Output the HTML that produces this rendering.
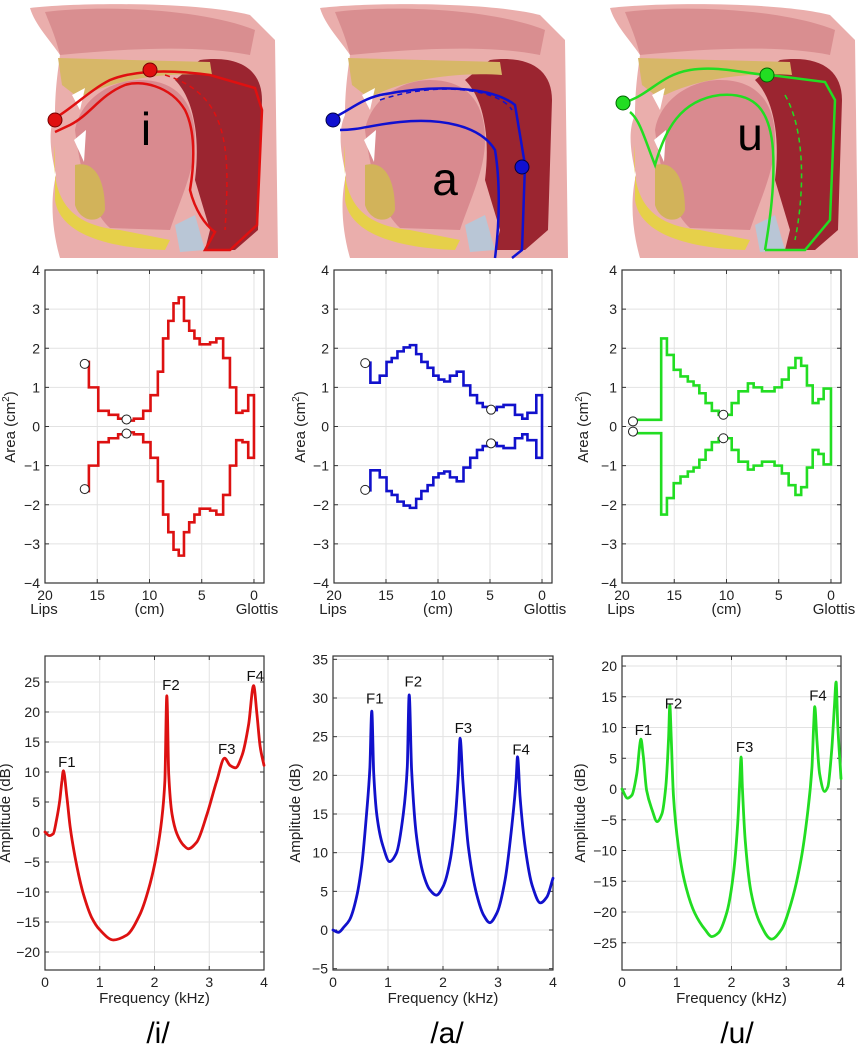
<!DOCTYPE html>
<html><head><meta charset="utf-8">
<style>
html,body{margin:0;padding:0;background:#fff;}
svg{display:block;font-family:"Liberation Sans",Arial,sans-serif;}
</style></head>
<body>
<svg id="fig" width="858" height="1049" viewBox="0 0 858 1049" xmlns="http://www.w3.org/2000/svg">
<defs>
<g id="anat">
  <path d="M30,8 C80,2 200,2 250,15 L275,40 L278,258 L60,258 C52,230 50,200 56,175 C50,150 48,130 55,115 C55,90 58,70 60,55 C50,40 35,25 30,8 Z" fill="#eaaeac"/>
  <path d="M45,12 C100,5 200,8 255,30 L250,55 C200,45 130,48 60,55 C55,35 50,25 45,12Z" fill="#d98e90"/>
  <path d="M200,60 C240,55 262,70 262,100 L258,230 L235,250 L205,250 L210,230 L195,180 C200,140 195,100 175,80 Z" fill="#9b2530"/>
  <path d="M58,58 L210,62 L212,75 C170,72 120,78 85,95 L75,95 L62,85 Z" fill="#d7b768"/>
  <path d="M75,130 C80,100 110,80 140,80 C175,80 195,100 195,140 C195,170 180,200 170,230 L110,228 C90,210 80,170 75,130Z" fill="#d98a8f"/>
  <path d="M55,145 C50,200 70,225 120,230 L170,240 L165,250 C110,248 60,235 55,200 Z" fill="#e6d04a"/>
  <path d="M75,165 C95,160 105,180 105,210 C100,225 80,222 75,205Z" fill="#d2b35a"/>
  <path d="M72,95 L85,88 L80,110 Z M74,140 L86,130 L84,162 Z" fill="#fff"/>
  <path d="M175,225 L195,215 L205,250 L180,252Z" fill="#b9c6d6"/>
</g>
</defs>

<g transform="translate(0,0)">
  <use href="#anat"/>
  <path d="M55,118 C70,110 90,90 110,80 C130,72 160,68 210,75 L255,88 L262,110 L257,225 L230,250 L205,250 L215,232 C205,225 195,210 190,190 C195,160 195,130 185,110 C170,85 140,80 125,85 C100,95 90,115 70,125 L55,132" fill="none" stroke="#e01010" stroke-width="2.5"/>
  <path d="M165,75 C230,95 230,150 225,230" fill="none" stroke="#e01010" stroke-width="1.5" stroke-dasharray="5,4"/>
  <circle cx="150" cy="70" r="7" fill="#e01010" stroke="#700"/>
  <circle cx="55" cy="120" r="7" fill="#e01010" stroke="#700"/>
  <text x="146" y="145" font-size="46" text-anchor="middle">i</text>
</g>
<g transform="translate(290,0)">
  <use href="#anat"/>
  <path d="M43,118 C60,110 70,100 90,95 C140,85 200,85 225,105 L235,165 L232,250 L222,258" fill="none" stroke="#1010d0" stroke-width="2.5"/>
  <path d="M50,130 C70,130 80,125 110,122 C150,118 190,125 205,150 C210,180 210,220 205,258" fill="none" stroke="#1010d0" stroke-width="2.5"/>
  <path d="M90,100 C150,80 210,90 222,110" fill="none" stroke="#1010d0" stroke-width="1.5" stroke-dasharray="5,4"/>
  <circle cx="43" cy="120" r="7" fill="#1010d0" stroke="#004"/>
  <circle cx="232" cy="167" r="7" fill="#1010d0" stroke="#004"/>
  <text x="155" y="195" font-size="46" text-anchor="middle">a</text>
</g>
<g transform="translate(580,0)">
  <use href="#anat"/>
  <path d="M43,103 C70,95 80,75 110,70 C140,65 170,75 190,75 L245,82 L255,100 L250,220 L225,250 L185,250" fill="none" stroke="#22dd22" stroke-width="2.5"/>
  <path d="M50,112 C60,120 65,140 75,165 C85,130 100,100 140,95 C175,92 190,110 193,150 C195,185 190,220 185,250" fill="none" stroke="#22dd22" stroke-width="2.5"/>
  <path d="M205,95 C225,130 225,190 215,240" fill="none" stroke="#22dd22" stroke-width="1.5" stroke-dasharray="5,4"/>
  <circle cx="43" cy="103" r="7" fill="#22dd22" stroke="#060"/>
  <circle cx="187" cy="75" r="7" fill="#22dd22" stroke="#060"/>
  <text x="170" y="150" font-size="46" text-anchor="middle">u</text>
</g>

<g id="charts"></g>
<text x="158" y="1043" font-size="30" text-anchor="middle">/i/</text>
<text x="447" y="1043" font-size="30" text-anchor="middle">/a/</text>
<text x="737" y="1043" font-size="30" text-anchor="middle">/u/</text>
</svg>
<script>
// ---- Area function data (section start in cm from glottis, area in cm^2) ----
const iPos = [16.0,15.8,14.9,13.9,13.0,12.3,11.5,10.6,9.9,9.2,8.7,8.2,7.7,7.2,6.7,6.2,5.7,5.2,4.2,3.6,2.95,2.3,1.7,1.1,0.55];
const iArea = [1.65,1.0,0.4,0.3,0.2,0.15,0.2,0.4,0.8,1.4,2.25,2.7,3.15,3.3,2.7,2.45,2.25,2.1,2.15,2.25,1.75,1.0,0.35,0.4,0.8];
const iMarkX = [16.2,12.2];
const iMarkY = [1.6,0.18];
const aPos = [16.6,16.5,15.6,14.95,14.45,13.9,13.3,12.7,12.1,11.6,11.0,10.45,9.95,9.4,8.85,8.2,7.55,6.9,6.25,5.7,5.0,4.35,3.7,2.6,1.9,1.4,0.55];
const aArea = [1.63,1.12,1.3,1.65,1.75,1.92,2.02,2.08,1.85,1.65,1.5,1.3,1.2,1.15,1.3,1.4,1.05,0.8,0.6,0.5,0.42,0.5,0.55,0.3,0.2,0.35,0.8];
const aMarkX = [17.0,4.9];
const aMarkY = [1.62,0.43];
const uPos = [18.8,16.25,15.7,15.05,14.4,13.7,13.15,12.6,12.0,11.4,10.75,9.5,8.85,7.95,7.4,6.6,5.4,4.7,4.05,3.4,2.85,2.3,1.75,1.2,0.7];
const uArea = [0.17,2.25,1.83,1.45,1.28,1.15,1.05,0.85,0.6,0.4,0.3,0.6,0.9,1.1,1.0,0.9,1.0,1.2,1.5,1.75,1.55,1.05,0.6,0.7,0.97];
const uMarkX = [18.95,10.3];
const uMarkY = [0.13,0.3];
const areaTicksY = [4,3,2,1,0,-1,-2,-3,-4];
const areaTicksX = [20,15,10,5,0];

// ---- Spectra data (kHz, dB) ----
const iFreq = [0,0.08,0.15,0.21,0.27,0.31,0.335,0.4,0.46,0.55,0.7,0.85,1.0,1.25,1.49,1.74,1.92,2.04,2.13,2.19,2.225,2.26,2.32,2.41,2.53,2.62,2.77,2.96,3.14,3.28,3.38,3.48,3.6,3.72,3.81,3.87,3.93,4.0];
const iDb = [0,-0.6,-0.3,2,5.3,8.6,10.2,5.8,0.8,-4.2,-10.3,-14.2,-16.3,-18,-17.2,-13.6,-8.6,-3.6,1.9,8.6,22.7,9.7,3,-0.3,-2.2,-2.8,-1.7,3,8.6,12.3,11.1,10.7,12.8,18,24.4,19.7,14.2,11.1];
const aFreq = [0,0.1,0.2,0.3,0.43,0.52,0.61,0.67,0.705,0.74,0.8,0.91,1.03,1.15,1.28,1.35,1.385,1.43,1.52,1.64,1.76,1.88,2.0,2.13,2.22,2.28,2.31,2.36,2.46,2.61,2.74,2.85,2.98,3.13,3.25,3.33,3.355,3.4,3.5,3.62,3.77,3.89,4.0];
const aDb = [0,-0.3,0.4,1.3,4.3,8.2,15.1,21,28.3,20.3,14.7,10.8,8.85,9.9,15.1,21.1,30.4,20.7,12,7.3,5.2,4.5,5.6,9,14.2,20.3,24.8,19.4,10.8,4.7,1.9,0.95,2.2,6.5,13.4,19.4,22.4,17.3,10.4,5.8,3.5,4.3,6.7];
const uFreq = [0,0.1,0.18,0.27,0.33,0.345,0.39,0.45,0.55,0.64,0.73,0.8,0.85,0.873,0.9,0.94,1.03,1.15,1.33,1.52,1.64,1.76,1.91,2.03,2.11,2.15,2.176,2.2,2.25,2.36,2.52,2.73,2.91,3.09,3.27,3.39,3.47,3.5,3.52,3.56,3.61,3.7,3.76,3.83,3.88,3.91,3.94,4.0];
const uDb = [0,-1.5,-1,2.5,7.5,8.1,5.2,-0.2,-3.4,-5.3,-4,0.4,8,13.6,8,-1.2,-9.4,-15.3,-20.2,-22.9,-24,-23.4,-20.2,-14.2,-6.1,0.9,5.2,-0.2,-8.3,-16.9,-21.8,-24.4,-22.9,-18.5,-11.5,-3.9,3.6,10.1,13.4,8,2.5,-0.4,0.4,6.3,13.4,17.4,10.6,1.7];
const fmtNames = ["F1","F2","F3","F4"];
const iLabF = [0.4,2.3,3.32,3.84], iLabDb = [10.8,23.7,13,25.2];
const aLabF = [0.76,1.46,2.37,3.42], aLabDb = [29.3,31.5,25.5,22.7];
const uLabF = [0.39,0.94,2.24,3.58], uLabDb = [8.8,13.1,6.05,14.4];
const iTicksY = [25,20,15,10,5,0,-5,-10,-15,-20];
const aTicksY = [35,30,25,20,15,10,5,0,-5];
const uTicksY = [20,15,10,5,0,-5,-10,-15,-20,-25];
const freqTicks = [0,1,2,3,4];

const NS = "http://www.w3.org/2000/svg";
const root = document.getElementById("charts");
function mk(tag, attrs, parent){ const e=document.createElementNS(NS,tag); for(const k in attrs) e.setAttribute(k,attrs[k]); (parent||root).appendChild(e); return e; }
function scale(d0,d1,r0,r1){ return v => r0+(v-d0)/(d1-d0)*(r1-r0); }
const fmt = v => (v<0?"\u2212"+(-v):String(v));

// monotone cubic path through pixel points
function monoPath(X,Y){
  const n=X.length, dx=[], m=[], t=new Array(n);
  for(let k=0;k<n-1;k++){ dx[k]=X[k+1]-X[k]; m[k]=(Y[k+1]-Y[k])/dx[k]; }
  t[0]=m[0]; t[n-1]=m[n-2];
  for(let k=1;k<n-1;k++){ t[k]=(m[k-1]*m[k]<=0)?0:(3*(dx[k-1]+dx[k]))/((2*dx[k]+dx[k-1])/m[k-1]+(dx[k]+2*dx[k-1])/m[k]); }
  let d=`M${X[0].toFixed(1)},${Y[0].toFixed(1)}`;
  for(let k=0;k<n-1;k++){
    const h=dx[k]/3;
    d+=` C${(X[k]+h).toFixed(1)},${(Y[k]+t[k]*h).toFixed(1)} ${(X[k+1]-h).toFixed(1)},${(Y[k+1]-t[k+1]*h).toFixed(1)} ${X[k+1].toFixed(1)},${Y[k+1].toFixed(1)}`;
  }
  return d;
}

function axesBox(g,x0,x1,y0,y1,sx,sy,xt,yt){
  xt.forEach(v=>{ const l=mk("line",{x1:sx(v),x2:sx(v),y1:y0,y2:y1,stroke:"#e2e2e2","stroke-width":1},g);
      });
  yt.forEach(v=>{ const l=mk("line",{x1:x0,x2:x1,y1:sy(v),y2:sy(v),stroke:"#e2e2e2","stroke-width":1},g);
      });
  xt.forEach(v=>{ mk("line",{x1:sx(v),x2:sx(v),y1:y1,y2:y1-4,stroke:"#333"},g); mk("line",{x1:sx(v),x2:sx(v),y1:y0,y2:y0+4,stroke:"#333"},g); });
  yt.forEach(v=>{ mk("line",{x1:x0,x2:x0+4,y1:sy(v),y2:sy(v),stroke:"#333"},g); mk("line",{x1:x1,x2:x1-4,y1:sy(v),y2:sy(v),stroke:"#333"},g); });
  const b=mk("rect",{x:x0,y:y0,width:x1-x0,height:y1-y0,fill:"none",stroke:"#333","stroke-width":1.2},g);
   
  yt.forEach(v=>{ const t=mk("text",{x:x0-5,y:sy(v)+5,"font-size":14,"text-anchor":"end",fill:"#222"},g); t.textContent=fmt(v);
      });
}

function areaChart(name,x0,x1,pos,area,mx,my,color,ytx){
  const g=mk("g",{});  
  const y0=270,y1=583;
  const sx=scale(20,-0.96,x0,x1), sy=scale(4,-4,y0,y1);
  axesBox(g,x0,x1,y0,y1,sx,sy,areaTicksX,areaTicksY);
  areaTicksX.forEach(v=>{ const t=mk("text",{x:sx(v),y:600,"font-size":14,"text-anchor":"middle",fill:"#222"},g); t.textContent=v;
      });
  const lips=mk("text",{x:sx(20)-1,y:614,"font-size":15,"text-anchor":"middle",fill:"#222"},g); lips.textContent="Lips";
   
  const cm=mk("text",{x:sx(10),y:614,"font-size":15,"text-anchor":"middle",fill:"#222"},g); cm.textContent="(cm)";
   
  const gl=mk("text",{x:sx(0)+3,y:614,"font-size":15,"text-anchor":"middle",fill:"#222"},g); gl.textContent="Glottis";
   
  const yt=mk("text",{x:0,y:0,"font-size":15,"text-anchor":"middle",fill:"#222",transform:`translate(${ytx},427) rotate(-90)`},g);
  yt.innerHTML='Area (cm<tspan dy="-6" font-size="10">2</tspan><tspan dy="6">)</tspan>';
   
  let d=`M${sx(pos[0])},${sy(area[0])}`;
  for(let k=0;k<pos.length;k++){
    const end = k+1<pos.length?pos[k+1]:0;
    d+=` L${sx(end)},${sy(area[k])}`;
    if(k+1<pos.length) d+=` L${sx(end)},${sy(area[k+1])}`;
  }
  d+=` L${sx(0)},${sy(-area[area.length-1])}`;
  for(let k=pos.length-1;k>=0;k--){
    d+=` L${sx(pos[k])},${sy(-area[k])}`;
    if(k>0) d+=` L${sx(pos[k])},${sy(-area[k-1])}`;
  }
  const p=mk("path",{d:d,fill:"none",stroke:color,"stroke-width":2.6,"stroke-linejoin":"miter"},g);
   
  mx.forEach((x,k)=>{ [1,-1].forEach(s=>{
    const c=mk("circle",{cx:sx(x),cy:sy(s*my[k]),r:4.5,fill:"#fff",stroke:"#222","stroke-width":1},g);
      }); });
}

function specChart(name,x0,x1,ymax,ymin,fr,db,yt,lf,ld,color,ytx){
  const g=mk("g",{});  
  const y0=656,y1=970;
  const sx=scale(0,4,x0,x1), sy=scale(ymax,ymin,y0,y1);
  axesBox(g,x0,x1,y0,y1,sx,sy,freqTicks,yt);
  freqTicks.forEach(v=>{ const t=mk("text",{x:sx(v),y:987,"font-size":14,"text-anchor":"middle",fill:"#222"},g); t.textContent=v;
      });
  const xt=mk("text",{x:(x0+x1)/2,y:1003,"font-size":15,"text-anchor":"middle",fill:"#222"},g); xt.textContent="Frequency (kHz)";
   
  const ytl=mk("text",{x:0,y:0,"font-size":15,"text-anchor":"middle",fill:"#222",transform:`translate(${ytx},813) rotate(-90)`},g); ytl.textContent="Amplitude (dB)";
   
  const d=monoPath(fr.map(sx), db.map(sy));
  const pl=mk("path",{d:d,fill:"none",stroke:color,"stroke-width":2.8,"stroke-linejoin":"round","stroke-linecap":"round"},g);
   
  lf.forEach((f,k)=>{ const t=mk("text",{x:sx(f),y:sy(ld[k]),"font-size":15,"text-anchor":"middle",fill:"#111"},g); t.textContent=fmtNames[k];
      });
}

areaChart("area-chart-i",45,264,iPos,iArea,iMarkX,iMarkY,"#dd1111",15);
areaChart("area-chart-a",334,552,aPos,aArea,aMarkX,aMarkY,"#1111cc",305);
areaChart("area-chart-u",622,841,uPos,uArea,uMarkX,uMarkY,"#22dd22",588);
specChart("spectrum-chart-i",45,264,29.33,-23,iFreq,iDb,iTicksY,iLabF,iLabDb,"#dd1111",10);
specChart("spectrum-chart-a",333,553,35.43,-5.17,aFreq,aDb,aTicksY,aLabF,aLabDb,"#1111cc",300);
specChart("spectrum-chart-u",622,841,21.63,-29.43,uFreq,uDb,uTicksY,uLabF,uLabDb,"#22dd22",585);
</script>
</body></html>
